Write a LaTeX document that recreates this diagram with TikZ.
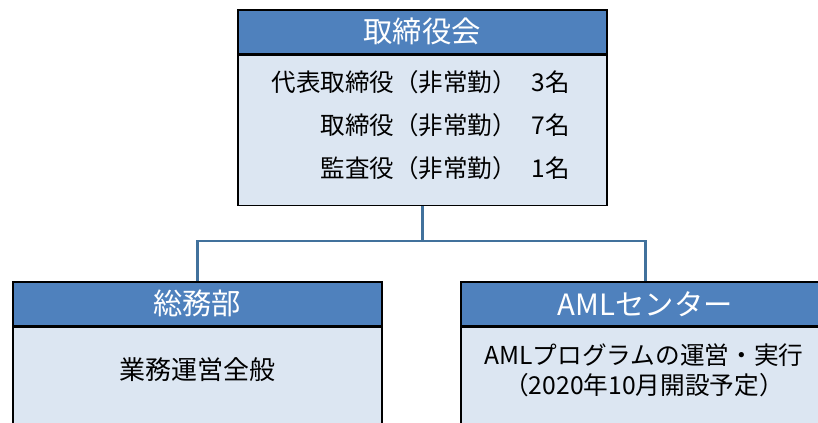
\documentclass[tikz,border=0pt]{standalone}
\usepackage{fontspec}
\setmainfont{Noto Sans CJK JP}
\usetikzlibrary{positioning}
\definecolor{HeadBlue}{HTML}{4F81BD}
\definecolor{BodyBlue}{HTML}{DCE6F2}
\definecolor{LinkBlue}{HTML}{41719C}

\tikzset{
  unithead/.style={draw=black, line width=1.2pt, fill=HeadBlue, text=white,
    minimum width=276.75pt, minimum height=33pt, inner sep=0pt,
    font=\fontsize{22}{26}\selectfont},
  unitbody/.style={draw=black, line width=1.2pt, fill=BodyBlue,
    minimum width=276.75pt, minimum height=112.5pt, inner sep=0pt},
  unittext/.style={inner sep=0pt, font=\fontsize{19}{22.5}\selectfont},
  link/.style={LinkBlue, line width=2pt},
}

\begin{document}
\begin{tikzpicture}[x=0.75pt, y=-0.75pt]
\useasboundingbox (0,0) rectangle (818,423);
\clip (0,0) rectangle (818,423);

% board of directors
\node[unithead, anchor=north west] (boardhead) at (237,9) {取締役会};
\node[unitbody, below=0pt of boardhead] (board) {};
\node[unittext, anchor=east, align=right, font=\fontsize{18.4}{32.25}\selectfont] (boardlist) at (570,125)
  {代表取締役（非常勤）\hspace{0.6em}3名\\取締役（非常勤）\hspace{0.6em}7名\\監査役（非常勤）\hspace{0.6em}1名};

% departments
\node[unithead, anchor=north west] (generalhead) at (12,281) {総務部};
\node[unitbody, below=0pt of generalhead] (general) {};
\node[unittext, font=\fontsize{19.5}{22.5}\selectfont] (generaltask) at (197.5,370) {業務運営全般};

\node[unithead, anchor=north west] (amlhead) at (460,281) {AMLセンター};
\node[unitbody, below=0pt of amlhead] (aml) {};
\node[unittext, align=center, font=\fontsize{18.5}{22.5}\selectfont] (amltask) at (644,370)
  {AMLプログラムの運営・実行\\（2020年10月開設予定）};

% connectors
\coordinate (fork) at (board.south |- 0,241);
\draw[link] (board.south) -- (fork);
\draw[link] (fork) -| (generalhead.north);
\draw[link] (fork) -| (amlhead.north);
\end{tikzpicture}
\end{document}
